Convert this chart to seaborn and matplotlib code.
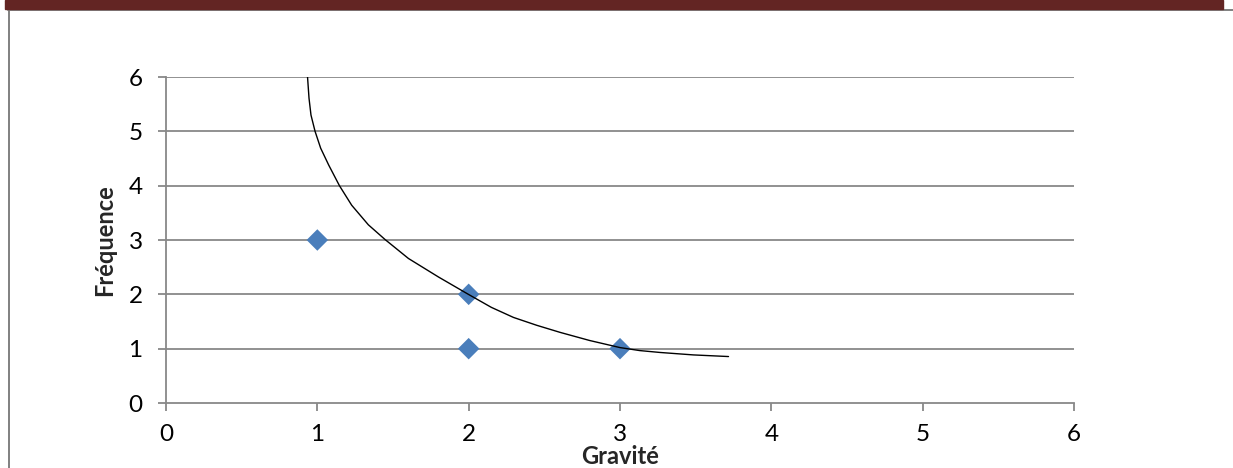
import matplotlib
matplotlib.use("Agg")
import matplotlib.pyplot as plt
import seaborn as sns
import pandas as pd
from matplotlib.patches import Rectangle
from matplotlib.lines import Line2D

# --- data ---
gravite = [1, 2, 2, 3]
frequence = [3, 2, 1, 1]

# hand-drawn limit curve
curve_x = [0.934, 0.945, 0.958, 0.985, 1.022, 1.075, 1.146, 1.227, 1.337, 1.447,
           1.602, 1.80, 1.998, 2.15, 2.296, 2.45, 2.604, 2.80, 3.0, 3.13,
           3.265, 3.485, 3.717]
curve_y = [6.05, 5.61, 5.30, 5.0, 4.69, 4.38, 4.0, 3.64, 3.28, 3.01,
           2.66, 2.32, 2.0, 1.76, 1.575, 1.43, 1.30, 1.15, 1.02, 0.965,
           0.93, 0.885, 0.855]

x_ticks = [0, 1, 2, 3, 4, 5, 6]
y_ticks = [0, 1, 2, 3, 4, 5, 6]
x_label = "Gravité"
y_label = "Fréquence"

sns.set_theme(style="white")
plt.rcParams['font.family'] = ['Lato', 'DejaVu Sans']

W, H = 1233, 468
fig = plt.figure(figsize=(W / 100, H / 100), dpi=100)
ax = fig.add_axes([166 / W, 1 - 403 / H, (1074 - 166) / W, (403 - 77) / H])

grid_c = "#888888"
for y in y_ticks[1:]:
    ax.axhline(y, color=grid_c, lw=1.3, zorder=1)

pts = pd.DataFrame({"Gravité": gravite, "Fréquence": frequence})
sns.scatterplot(data=pts, x="Gravité", y="Fréquence", marker="D", s=120,
                color="#4a7ebb", edgecolor="none", ax=ax, zorder=3)

cur = pd.DataFrame({"x": curve_x, "y": curve_y})
sns.lineplot(data=cur, x="x", y="y", sort=False, estimator=None,
             color="black", lw=1.0, ax=ax, zorder=4)

ax.set_xlim(0, 6)
ax.set_ylim(0, 6)
ax.set_xticks(x_ticks)
ax.set_yticks(y_ticks)
ax.set_xticklabels([str(t) for t in x_ticks])
ax.set_yticklabels([str(t) for t in y_ticks])

for s in ["top", "right"]:
    ax.spines[s].set_visible(False)
for s in ["left", "bottom"]:
    ax.spines[s].set_color(grid_c)
    ax.spines[s].set_linewidth(1.3)

ax.tick_params(axis="both", which="both", direction="out", length=5.8, width=1.3,
               color=grid_c, labelsize=17.5, labelcolor="black")
ax.tick_params(axis="y", pad=11, left=True)
ax.tick_params(axis="x", pad=9, bottom=True)

ax.set_xlabel(x_label, fontsize=17, fontweight="bold", va="center")
ax.xaxis.set_label_coords(0.5, (403 - 456) / 326)
ax.set_ylabel(y_label, fontsize=17, fontweight="bold", va="center", rotation=90)
ax.yaxis.set_label_coords((105 - 166) / 908, 0.5)

# page decorations (header band and frame lines)
fig.patches.append(Rectangle((5 / W, 1 - 9 / H), (1223 - 5) / W, 9 / H,
                             transform=fig.transFigure, color="#632523", zorder=5))
fig.lines.append(Line2D([8 / W, 1.0], [1 - 10 / H, 1 - 10 / H], transform=fig.transFigure,
                        color="#808080", lw=1.4))
fig.lines.append(Line2D([8.5 / W, 8.5 / W], [0, 1 - 10 / H], transform=fig.transFigure,
                        color="#808080", lw=1.4))

fig.savefig("out.png", dpi=100)
